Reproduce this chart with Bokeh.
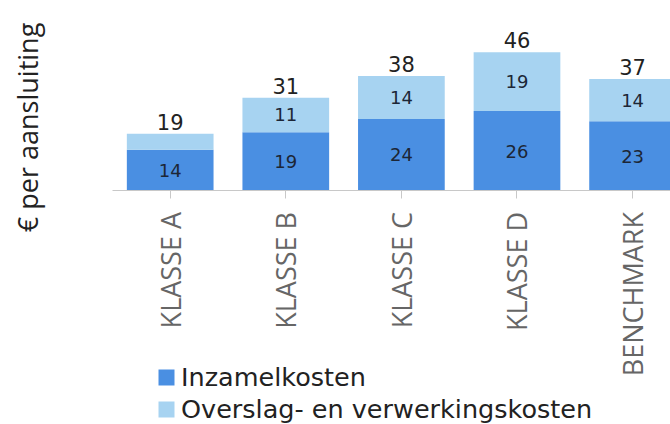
import math
from bokeh.plotting import figure
from bokeh.models import (Range1d, FixedTicker, Label, Legend, LegendItem,
                          ColumnDataSource)
from bokeh.core.properties import value
from bokeh.embed import file_html
from bokeh.resources import INLINE

# ---- data ----
categories = ["KLASSE A", "KLASSE B", "KLASSE C", "KLASSE D", "BENCHMARK"]
inzamelkosten = [13.6, 19.4, 23.8, 26.4, 23.0]
overslag_verwerking = [5.3, 11.4, 14.2, 19.4, 14.0]
series_names = ["Inzamelkosten", "Overslag- en verwerkingskosten"]
y_title = "€ per aansluiting"

DARK = "#4a8fe2"
LIGHT = "#a7d3f1"

xs = list(range(len(categories)))
totals = [a + b for a, b in zip(inzamelkosten, overslag_verwerking)]

src = ColumnDataSource(dict(
    x=xs,
    inz=inzamelkosten,
    tot=totals,
    inz_mid=[v / 2 for v in inzamelkosten],
    inz_lbl=[str(round(v)) for v in inzamelkosten],
    tot_lbl=[str(round(v)) for v in totals],
))

# light-segment labels only where the segment is tall enough
li = [i for i, v in enumerate(overslag_verwerking) if v >= 8]
src_ovl = ColumnDataSource(dict(
    x=[xs[i] for i in li],
    y=[inzamelkosten[i] + overslag_verwerking[i] / 2 for i in li],
    lbl=[str(round(overslag_verwerking[i])) for i in li],
))

X0, X1 = -1.468, 4.328
p = figure(width=670, height=424,
           x_range=Range1d(X0, X1), y_range=Range1d(-77.1, 62.9),
           output_backend="svg", toolbar_location=None,
           min_border_left=0, min_border_right=0,
           min_border_top=0, min_border_bottom=0)
p.outline_line_color = None
p.xgrid.visible = False
p.ygrid.visible = False
p.yaxis.visible = False

r1 = p.vbar(x="x", bottom=0, top="inz", width=0.75, source=src,
            fill_color=DARK, line_color=None)
r2 = p.vbar(x="x", bottom="inz", top="tot", width=0.75, source=src,
            fill_color=LIGHT, line_color=None)

p.text(x="x", y="inz_mid", text="inz_lbl", source=src,
       text_font=value("DejaVu Sans"), text_font_size="18px",
       text_color="#1c2636", text_align="center", text_baseline="middle")
p.text(x="x", y="y", text="lbl", source=src_ovl,
       text_font=value("DejaVu Sans"), text_font_size="18px",
       text_color="#1c2636", text_align="center", text_baseline="middle")
p.text(x="x", y="tot", text="tot_lbl", source=src,
       text_font=value("DejaVu Sans"), text_font_size="21px",
       text_color="#222222", text_align="center", text_baseline="bottom",
       y_offset=-4)

ax = p.xaxis[0]
ax.fixed_location = 0
ax.bounds = (-0.5, X1)
ax.ticker = FixedTicker(ticks=xs)
ax.major_label_overrides = {i: c for i, c in enumerate(categories)}
ax.major_label_orientation = math.pi / 2
ax.axis_line_color = "#c8c8c8"
ax.major_tick_line_color = "#c8c8c8"
ax.major_tick_in = 0
ax.major_tick_out = 8
ax.minor_tick_line_color = None
ax.major_label_standoff = 13
ax.major_label_text_font = "Open Sans"
ax.major_label_text_font_size = "27px"
ax.major_label_text_color = "#666666"

p.add_layout(Label(x=-1.234, y=21.0,
                   text=y_title, angle=math.pi / 2,
                   text_align="center", text_baseline="middle",
                   text_font="Open Sans", text_font_size="27px",
                   text_color="#222222"))

legend = Legend(items=[LegendItem(label=series_names[0], renderers=[r1]),
                       LegendItem(label=series_names[1], renderers=[r2])],
                location=(156, 0), orientation="vertical",
                padding=0, margin=0, spacing=2,
                glyph_width=20, glyph_height=20, label_standoff=5,
                label_text_font="DejaVu Sans", label_text_font_size="25.5px",
                label_text_color="#222222",
                background_fill_alpha=0, border_line_color=None)
p.add_layout(legend)

open("out.html", "w").write(file_html(p, INLINE))
